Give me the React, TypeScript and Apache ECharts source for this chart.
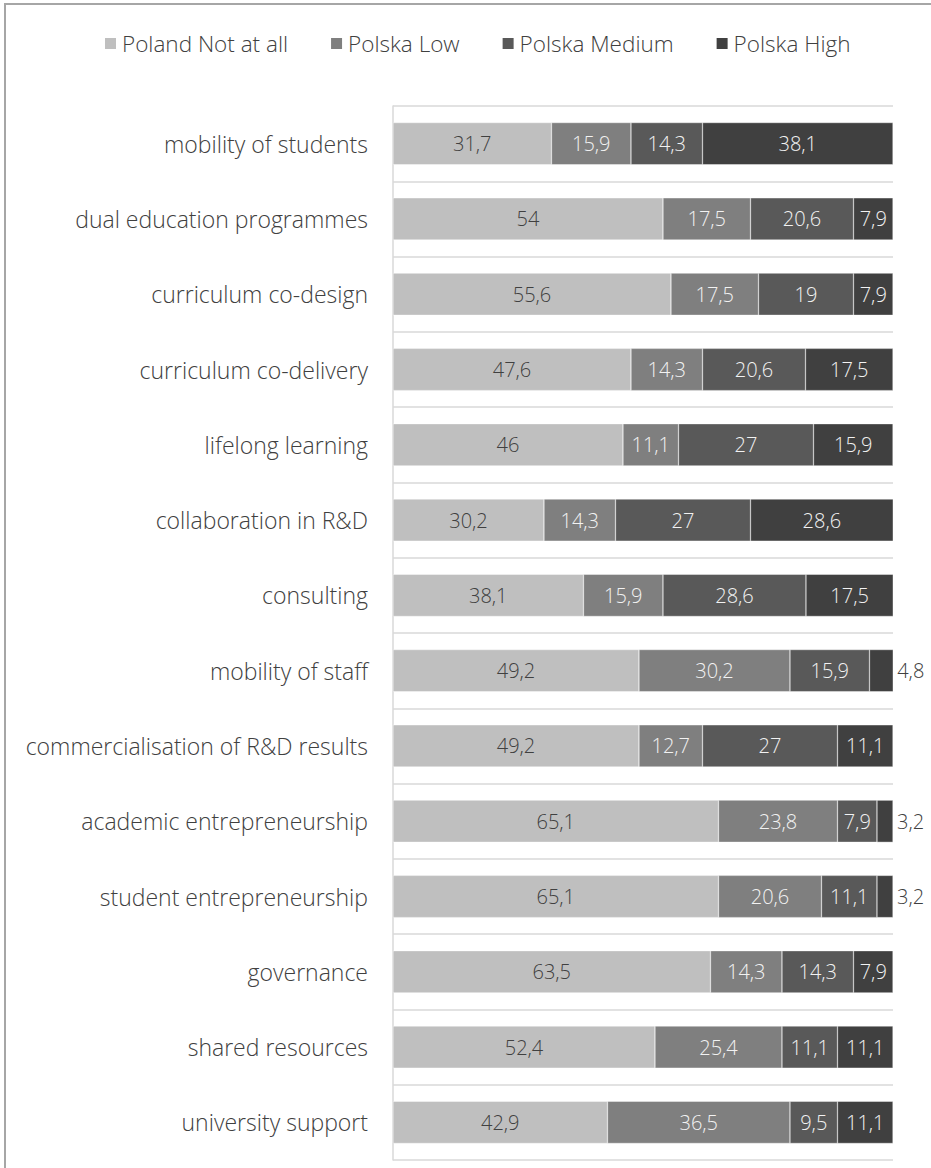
import React, { useEffect, useRef } from "react";
import * as echarts from "echarts";

const categories = [
  "mobility of students",
  "dual education programmes",
  "curriculum co-design",
  "curriculum co-delivery",
  "lifelong learning",
  "collaboration in R&D",
  "consulting",
  "mobility of staff",
  "commercialisation of R&D results",
  "academic entrepreneurship",
  "student entrepreneurship",
  "governance",
  "shared resources",
  "university support",
];

const seriesNames = ["Poland Not at all", "Polska Low", "Polska Medium", "Polska High"];

const notAtAll = [31.7, 54, 55.6, 47.6, 46, 30.2, 38.1, 49.2, 49.2, 65.1, 65.1, 63.5, 52.4, 42.9];
const low = [15.9, 17.5, 17.5, 14.3, 11.1, 14.3, 15.9, 30.2, 12.7, 23.8, 20.6, 14.3, 25.4, 36.5];
const medium = [14.3, 20.6, 19, 20.6, 27, 27, 28.6, 15.9, 27, 7.9, 11.1, 14.3, 11.1, 9.5];
const high = [38.1, 7.9, 7.9, 17.5, 15.9, 28.6, 17.5, 4.8, 11.1, 3.2, 3.2, 7.9, 11.1, 11.1];

const colors = ["#bfbfbf", "#7f7f7f", "#595959", "#404040"];
const labelColors = ["#404040", "#f2f2f2", "#f2f2f2", "#f2f2f2"];
const FONT = "'Open Sans', sans-serif";

export default function App() {
  const ref = useRef<HTMLDivElement>(null);
  useEffect(() => {
    if (!ref.current) return;
    const chart = echarts.init(ref.current, null, { renderer: "svg" });
    const all = [notAtAll, low, medium, high];
    const fmt = (v: number) => String(v).replace(".", ",");
    const series = all.map((arr, si) => ({
      name: seriesNames[si],
      type: "bar",
      stack: "total",
      barWidth: "56%",
      itemStyle: { color: colors[si], borderColor: "#ffffff", borderWidth: 0.4 },
      label: {
        show: true,
        position: "inside",
        color: labelColors[si],
        fontFamily: FONT,
        fontWeight: 300,
        fontSize: 20,
        formatter: (p: any) => fmt(p.value),
      },
      data: arr.map((v) =>
        v < 5
          ? {
              value: v,
              label: { position: "right", color: "#404040", distance: 4 },
            }
          : v
      ),
    }));
    chart.setOption({
      animation: false,
      backgroundColor: "#ffffff",
      textStyle: { fontFamily: FONT },
      graphic: [
        {
          type: "rect",
          shape: { x: 5, y: 4, width: 1000, height: 1300 },
          style: { fill: "none", stroke: "#a6a6a6", lineWidth: 2 },
          silent: true,
        },
      ],
      legend: {
        top: 27,
        left: 98,
        itemWidth: 13,
        itemHeight: 13,
        itemGap: 41,
        icon: "rect",
        textStyle: { fontFamily: FONT, fontWeight: 300, fontSize: 22.5, color: "#404040" },
        data: seriesNames,
      },
      grid: { left: 393, right: 38, top: 106, bottom: 8 },
      xAxis: {
        type: "value",
        min: 0,
        max: 100,
        show: false,
      },
      yAxis: {
        type: "category",
        inverse: true,
        data: categories,
        axisLine: { show: true, lineStyle: { color: "#d9d9d9", width: 1.5 } },
        axisTick: { show: false },
        splitLine: { show: true, lineStyle: { color: "#d9d9d9", width: 1.5 } },
        axisLabel: {
          fontFamily: FONT,
          fontWeight: 300,
          fontSize: 23,
          color: "#404040",
          margin: 25,
        },
      },
      series,
    });
    return () => chart.dispose();
  }, []);
  return (
    <div
      ref={ref}
      style={{ position: "absolute", left: 0, top: 0, width: 931, height: 1168 }}
    />
  );
}
